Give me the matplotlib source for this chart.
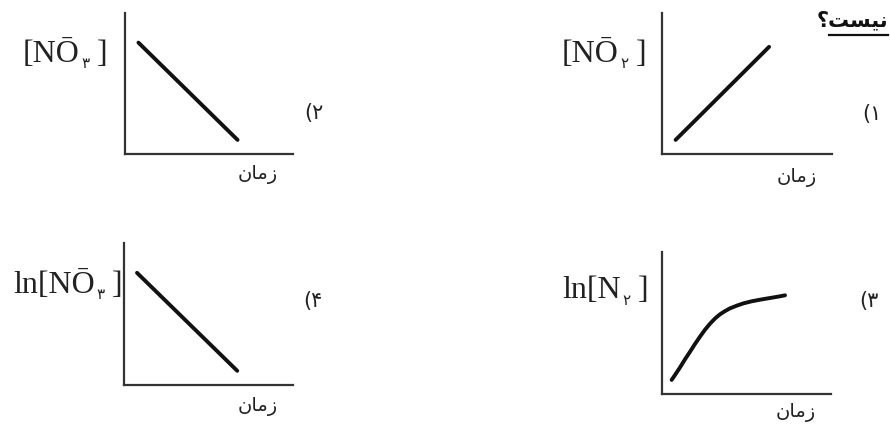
import matplotlib
matplotlib.use("Agg")
import matplotlib.pyplot as plt

W, H = 890, 424

# ---- data (arbitrary units) ----
t_p1 = [0.08, 0.63]
c_p1 = [0.10, 0.76]          # [NO2-] rising

t_p2 = [0.08, 0.67]
c_p2 = [0.79, 0.10]          # [NO3-] falling

t_p3 = [0.057, 0.077, 0.107, 0.136, 0.166, 0.195, 0.225, 0.254, 0.284, 0.314,
        0.343, 0.373, 0.402, 0.442, 0.481, 0.531, 0.580, 0.619, 0.659, 0.698, 0.728]
c_p3 = [0.099, 0.134, 0.188, 0.244, 0.298, 0.352, 0.404, 0.452, 0.495, 0.532,
        0.561, 0.584, 0.603, 0.622, 0.638, 0.653, 0.664, 0.672, 0.680, 0.688, 0.695]  # ln[N2]

t_p4 = [0.077, 0.67]
c_p4 = [0.79, 0.10]          # ln[NO3-] falling

xlabel = "\uFEE5\uFE8E\uFEE3\uFEAF"          # زمان (visual order, shaped)
title_word = "\u061F\uFE96\uFEB4\uFEF4\uFEE7"  # نیست؟ (visual order, shaped)

panels = [
    dict(box=(662, 13, 832, 154), t=t_p1, c=c_p1, lab=("[NŌ", "۲", " ]"), lab_xy=(562, 54),
         num="(۱", num_xy=(872, 114), xl_xy=(797, 178)),
    dict(box=(125, 13, 293, 154), t=t_p2, c=c_p2, lab=("[NŌ", "۳", " ]"), lab_xy=(23, 54),
         num="(۲", num_xy=(314, 113), xl_xy=(258, 175)),
    dict(box=(662, 252, 831, 394), t=t_p3, c=c_p3, lab=("ln[N", "۲", " ]"), lab_xy=(562, 291),
         num="(۳", num_xy=(869, 301), xl_xy=(796, 413)),
    dict(box=(124, 243, 293, 385), t=t_p4, c=c_p4, lab=("ln[NŌ", "۳", " ]"), lab_xy=(13, 285),
         num="(۴", num_xy=(313, 301), xl_xy=(258, 407)),
]

fig = plt.figure(figsize=(W / 100, H / 100), dpi=100)
fig.patch.set_facecolor("white")

serif = ["Liberation Serif", "DejaVu Serif", "DejaVu Sans"]
LABEL_FS = 23

for p in panels:
    l, t, r, b = p["box"]
    ax = fig.add_axes([l / W, (H - b) / H, (r - l) / W, (b - t) / H])
    ax.set_xlim(0, 1)
    ax.set_ylim(0, 1)
    for s in ("top", "right"):
        ax.spines[s].set_visible(False)
    for s in ("left", "bottom"):
        ax.spines[s].set_color("#333333")
        ax.spines[s].set_linewidth(1.6)
    ax.set_xticks([])
    ax.set_yticks([])
    ax.patch.set_alpha(0)
    ax.plot(p["t"], p["c"], color="#111111", lw=2.8, solid_capstyle="round",
            solid_joinstyle="round")

    # y label built from pieces
    x0, y0 = p["lab_xy"]
    t1 = fig.text(x0 / W, 1 - y0 / H, p["lab"][0], family=serif, fontsize=LABEL_FS,
                  ha="left", va="center", color="#222222")
    t2 = ax.annotate(p["lab"][1], xy=(1, 0), xycoords=t1, xytext=(1, -1.5),
                     textcoords="offset points", family=["DejaVu Sans"], fontsize=11,
                     ha="left", va="bottom", color="#222222", annotation_clip=False)
    ax.annotate(p["lab"][2], xy=(1, 0), xycoords=(t2, t1), xytext=(0, 0),
                textcoords="offset points", family=serif, fontsize=LABEL_FS,
                ha="left", va="bottom", color="#222222", annotation_clip=False)

    # x label
    xx, xy = p["xl_xy"]
    fig.text(xx / W, 1 - xy / H, xlabel, family=["DejaVu Sans"], fontsize=14,
             ha="center", va="center", color="#222222")

    # option number
    nx, ny = p["num_xy"]
    fig.text(nx / W, 1 - ny / H, p["num"], family=["DejaVu Sans"], fontsize=15,
             ha="center", va="center", color="#222222")

# top-right word with underline
fig.text(888 / W, 1 - 20 / H, title_word, family=["DejaVu Sans"], fontsize=15,
         ha="right", va="center", color="#111111", fontweight="bold")
fig.add_artist(plt.Line2D([829 / W, 888 / W], [1 - 35 / H, 1 - 35 / H],
                          color="#111111", lw=1.6, transform=fig.transFigure))

fig.savefig("out.png", dpi=100, facecolor="white")
